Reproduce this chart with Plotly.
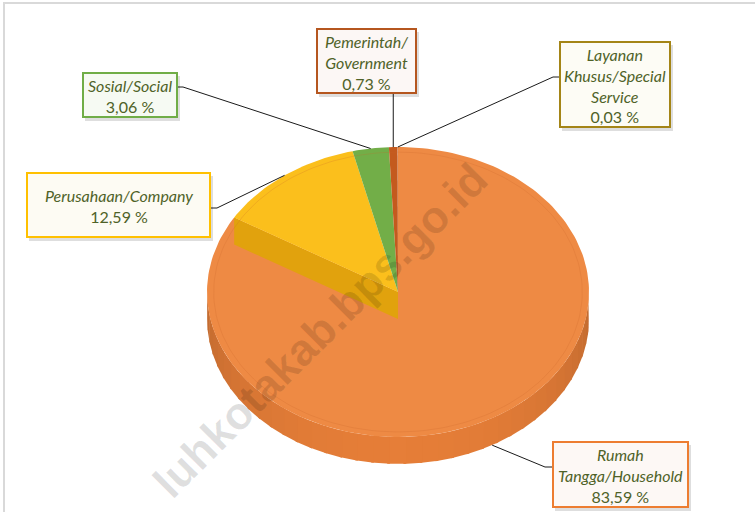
import numpy as np
import plotly.graph_objects as go

# ---------------- data ----------------
categories = ["Rumah Tangga/Household", "Perusahaan/Company", "Sosial/Social",
              "Pemerintah/Government", "Layanan Khusus/Special Service"]
label_lines = [["Rumah", "Tangga/Household"], ["Perusahaan/Company"], ["Sosial/Social"],
               ["Pemerintah/", "Government"], ["Layanan", "Khusus/Special", "Service"]]
values = [83.59, 12.59, 3.06, 0.73, 0.03]
value_labels = ["83,59 %", "12,59 %", "3,06 %", "0,73 %", "0,03 %"]
watermark = "luhkotakab.bps.go.id"

# ---------------- styles ----------------
top_colors = ["#EE8A44", "#FBBF1C", "#72AE48", "#C45A1E", "#A88A16"]
side_rgb = [(230, 126, 56), (232, 168, 14), (96, 150, 60), (170, 75, 25), (140, 115, 20)]
box_borders = ["#ED7D31", "#FFC000", "#70AD47", "#B5561F", "#A48517"]
box_fills = ["#FDF8F5", "#FDFBF3", "#F6FAF3", "#FCF7F5", "#FDFCF5"]
walls = [False, True, False, False, False]
TEXT_COLOR = "#4F6228"
FONT = "Lato"

W, H = 755, 512
CX, CY, RX, RY, DEPTH = 398, 292, 191, 145, 27

# label boxes in pixel units: x0, y0, x1, y1, leader start, stub x
boxes = [
    dict(x0=553, y0=442, x1=688, y1=507, lx=553, ly=467, sx=545),
    dict(x0=27, y0=173, x1=210, y1=237, lx=210, ly=208, sx=217),
    dict(x0=83, y0=73, x1=177, y1=117, lx=177, ly=87, sx=183),
    dict(x0=317, y0=29, x1=416, y1=93, lx=None, ly=93, sx=None),
    dict(x0=560, y0=42, x1=670, y1=127, lx=560, ly=77, sx=553),
]


def pt(phi, r=1.0, dx=0.0, dy=0.0):
    a = np.radians(phi)
    return CX + dx + RX * r * np.sin(a), CY + dy - RY * r * np.cos(a)


def arc(a0, a1, n=None, dx=0.0, dy=0.0):
    if n is None:
        n = max(2, int(abs(a1 - a0) / 1.5) + 2)
    ph = np.linspace(a0, a1, n)
    xs, ys = pt(ph, 1.0, dx, dy)
    return list(xs), list(ys)


total = sum(values)
ends = np.cumsum(values) / total * 360.0
starts = np.concatenate([[0.0], ends[:-1]])
mids = (starts + ends) / 2.0

fig = go.Figure()


def poly(xs, ys, color, name):
    fig.add_trace(go.Scatter(x=xs, y=ys, fill="toself", fillcolor=color, mode="lines",
                             line=dict(width=0, color=color), hoverinfo="skip", name=name))


def shade(rgb, f):
    return "rgb(%d,%d,%d)" % tuple(max(0, min(255, int(c * f))) for c in rgb)


# side walls (front half) of each slice
for i in range(len(values)):
    a0, a1 = max(starts[i], 90.0), min(ends[i], 270.0)
    if a1 <= a0:
        continue
    steps = np.linspace(a0, a1, int((a1 - a0) / 5) + 2)
    for s0, s1 in zip(steps[:-1], steps[1:]):
        m = (s0 + s1) / 2
        f = 0.84 + 0.16 * np.cos(np.radians(m - 180.0))
        e1 = min(s1 + 0.8, a1)
        tx, ty = arc(s0, e1, 6)
        bx, by = arc(e1, s0, 6, 0, DEPTH)
        poly(tx + bx, ty + by, shade(side_rgb[i], f), categories[i])

# top faces; raised slices show their radial wall
for i in range(len(values)):
    if walls[i]:
        ox, oy = pt(starts[i], 1.0)
        wx = [CX, ox, ox, CX]
        wy = [CY, oy, oy + DEPTH, CY + DEPTH]
        poly(wx, wy, shade(side_rgb[i], 0.97), categories[i])
    xs, ys = arc(starts[i], ends[i])
    poly([CX] + xs + [CX], [CY] + ys + [CY], top_colors[i], categories[i])

# inner bevel rim of the top
rx_, ry_ = pt(np.linspace(0, 360, 200), 0.965)
fig.add_trace(go.Scatter(x=list(rx_), y=list(ry_), mode="lines",
                         line=dict(color="rgba(200,100,40,0.22)", width=1), hoverinfo="skip"))

# leader lines
for i, b in enumerate(boxes):
    ax, ay = pt(mids[i], 1.0)
    if 90 < mids[i] < 270:
        ay += DEPTH
    if b["lx"] is None:
        xs, ys = [ax, ax], [b["ly"], ay]
    else:
        xs, ys = [b["lx"], b["sx"], ax], [b["ly"], b["ly"], ay]
    fig.add_trace(go.Scatter(x=xs, y=ys, mode="lines", line=dict(color="#1a1a1a", width=1),
                             hoverinfo="skip"))

shapes = [dict(type="rect", xref="x", yref="y", x0=4, y0=3, x1=W + 20, y1=H + 20,
               line=dict(color="#D9D9D9", width=2), layer="below")]
annotations = [dict(text="<b>%s</b>" % watermark, x=320, y=330, xref="x", yref="y",
                    showarrow=False, textangle=-45,
                    font=dict(family="Liberation Sans", size=45, color="rgba(0,0,0,0.12)"))]
for i, b in enumerate(boxes):
    shapes.append(dict(type="rect", xref="x", yref="y", x0=b["x0"] + 2, y0=b["y0"] + 3,
                       x1=b["x1"] + 3, y1=b["y1"] + 4, line=dict(width=0),
                       fillcolor="rgba(0,0,0,0.13)", layer="above"))
    shapes.append(dict(type="rect", xref="x", yref="y", x0=b["x0"], y0=b["y0"],
                       x1=b["x1"], y1=b["y1"], line=dict(color=box_borders[i], width=2),
                       fillcolor=box_fills[i], layer="above"))
    txt = "<br>".join(["<i>%s</i>" % s for s in label_lines[i]] + [value_labels[i]])
    annotations.append(dict(text=txt, x=(b["x0"] + b["x1"]) / 2, y=(b["y0"] + b["y1"]) / 2 + 1,
                            xref="x", yref="y", showarrow=False, align="center",
                            xanchor="center", yanchor="middle",
                            font=dict(family=FONT, size=16, color=TEXT_COLOR)))

fig.update_layout(
    width=W, height=H, margin=dict(l=0, r=0, t=0, b=0),
    paper_bgcolor="white", plot_bgcolor="white", showlegend=False,
    xaxis=dict(range=[0, W], visible=False, fixedrange=True),
    yaxis=dict(range=[H, 0], visible=False, fixedrange=True),
    shapes=shapes, annotations=annotations,
)

fig.write_html("out.html", config={"displayModeBar": False},
               post_script="document.body.style.margin='0';document.body.style.overflow='hidden';")
